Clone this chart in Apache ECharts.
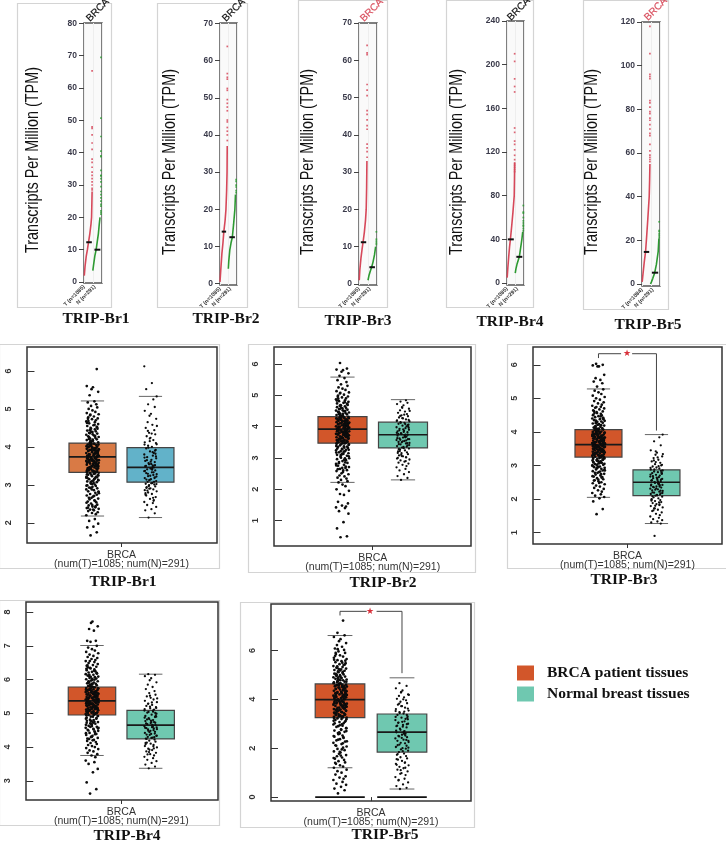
<!DOCTYPE html>
<html><head><meta charset="utf-8">
<style>html,body{margin:0;padding:0;background:#fff}#c{width:726px;height:843px}</style>
<script src="https://cdn.jsdelivr.net/npm/echarts@6/dist/echarts.min.js"></script>
</head><body><div id="c"></div>
<script>
const names = ['TRIP-Br1','TRIP-Br2','TRIP-Br3','TRIP-Br4','TRIP-Br5'];
const legendNames = ['BRCA patient tissues','Normal breast tissues'];
// ---- dot plots (TPM) ----
const dotTicks = [[0,10,20,30,40,50,60,70,80],[0,10,20,30,40,50,60,70],[0,10,20,30,40,50,60,70],[0,40,80,120,160,200,240],[0,20,40,60,80,100,120]];
const dotRange = [[-0.3,80.1],[-0.35,70.1],[-0.27,70],[-1.8,240],[-0.9,120]];
const dotCurveT = [
 [[0.03,2],[0.12,5],[0.25,8],[0.38,10],[0.5,12.3],[0.65,15],[0.78,18],[0.84,20],[0.88,25],[0.9,28]],
 [[0,0.5],[0.1,4],[0.22,8],[0.35,11],[0.45,14],[0.6,17],[0.7,20],[0.78,25],[0.83,30],[0.85,37]],
 [[0.03,1],[0.1,4],[0.22,7],[0.35,9.5],[0.45,11.2],[0.6,14],[0.72,17],[0.8,20],[0.85,26],[0.88,33]],
 [[0.02,5],[0.1,14],[0.2,24],[0.3,33],[0.4,40],[0.55,52],[0.7,65],[0.85,80],[0.88,95],[0.9,110]],
 [[0.02,1],[0.12,5],[0.25,10],[0.4,15],[0.52,22],[0.65,30],[0.8,40],[0.85,48],[0.88,55]]
];
const dotCurveN = [
 [[0.98,3.5],[1.05,5],[1.2,8],[1.35,10],[1.45,12],[1.6,15],[1.7,18],[1.78,20]],
 [[0.98,4],[1.03,6],[1.15,9],[1.3,11],[1.45,12.5],[1.6,16],[1.75,20],[1.82,24]],
 [[1,1],[1.1,2.2],[1.25,3.4],[1.4,4.5],[1.55,5.8],[1.72,7.8],[1.85,10]],
 [[0.97,9],[1.05,13],[1.2,18],[1.45,24],[1.6,32],[1.75,40],[1.85,47]],
 [[0.95,0],[1.05,1],[1.2,2.6],[1.4,5],[1.6,9],[1.8,15],[1.88,21]]
];
const dotExtraT = [
 [65.3,48,47.5,45.5,43,41,38,37,35.5,34,33,32,31,30,29,28.5],
 [63.8,56.5,55.5,55,52.5,52,49.5,48.5,47.5,46.5,44,43.5,42,41,40,38.5],
 [64,62,61.5,53.5,52,50.5,46.5,45.5,44,42.5,41.5,37.5,36.5,35.5,34],
 [210,203,187,180,175,142,138,130,127,122,117,113,110,108,106,104,102],
 [118,105.5,96,95,94,84,83,81,79,78,76,75,73,71,69,68,64,61,59,58,57,56]
];
const dotExtraN = [
 [69.5,50.7,45,40.5,39,38.8,34.5,33,32.8,32,31,29.5,28,27,26,25,24,23.5,22,21.5,21],
 [28,27.5,26.5,26,25,24.5],
 [14,12,11.5,11,10.6],
 [71,65,64,60,57,55,53,52,50,48],
 [28.5,24.5,24,23,22.3,21.5]
];
const dotExtraX = [[0.9,1.89],[0.86,1.9],[0.9,1.93],[0.9,1.92],[0.88,1.91]];
const dotMedianT = [12.3,14,11.2,40,14.7];
const dotMedianN = [10,12.5,4.5,24,5.2];
const dotMedianSpanT = [[0.25,0.87],[0.2,0.72],[0.2,0.8],[0.1,0.8],[0.2,0.8]];
const dotMedianSpanN = [[1.16,1.82],[1.1,1.75],[1.15,1.77],[1.1,1.8],[1.1,1.8]];
const dotSampleLabels = [['T (n=1085)','N (n=291)'],['T (n=1085)','N (n=291)'],['T (n=1085)','N (n=291)'],['T (n=1085)','N (n=291)'],['T (n=1084)','N (n=291)']];
// ---- box plots: [min, q1, median, q3, max] ----
const boxT = [[2.18,3.33,3.74,4.1,5.21],[2.22,3.47,3.92,4.32,5.58],[2.05,3.25,3.62,4.07,5.28],[3.75,4.95,5.37,5.78,7.01],[1.2,3.25,3.99,4.63,6.61]];
const boxN = [[2.14,3.07,3.46,3.98,5.33],[2.3,3.32,3.74,4.14,4.86],[1.27,2.1,2.5,2.87,3.92],[3.37,4.24,4.65,5.09,6.16],[0.33,1.84,2.66,3.4,4.88]];
const boxTicks = [[2,3,4,5,6],[1,2,3,4,5,6],[1,2,3,4,5,6],[3,4,5,6,7,8],[0,2,4,6]];
const boxRange = [[1.47,6.63],[0.19,6.54],[0.66,6.53],[2.43,8.3],[-0.16,7.9]];
const boxXRange = [[-0.129,3.147],[-0.132,3.124],[-0.129,3.13],[-0.124,3.147],[-0.113,3.113]];
const boxHalfWidth = [0.405,0.405,0.405,0.404,0.4];
const capHalfWidth = [0.2,0.2,0.2,0.2,0.2];
const jitterOffsets = [-0.04,0.09,-0.11,0.02,0.12,-0.07,0.05,-0.13,0.07,-0.01,0.11,-0.09,0.03,-0.05,0.13,-0.12,0.06,0.0,-0.08,0.1,-0.03,0.08,-0.1,0.04,-0.06,0.12,-0.02,0.01,-0.12,0.09,-0.05,0.06,0.13,-0.09,0.03,-0.13,0.1,-0.07,0.0,0.07,-0.11,0.05,-0.03];
const jitterOffsetsB = [0.035,-0.085,0.115,-0.025,-0.125,0.065,0.015,-0.055,0.095,-0.105,0.045,0.125,-0.015,-0.075,0.085,-0.035,0.105,-0.115,0.025,0.055,-0.095,0.075,-0.045,-0.005,0.135,-0.065,0.005];
const ptsT1 = [1.67,1.75,1.88,1.9,1.98,2.05,2.1,2.2,2.23,2.26,2.28,2.31,2.33,2.35,2.37,2.39,2.41,2.43,2.46,2.48,2.51,2.54,2.56,2.59,2.62,2.64,2.66,2.69,2.72,2.74,2.76,2.79,2.81,2.83,2.86,2.88,2.91,2.93,2.95,2.97,2.99,3.01,3.03,3.05,3.07,3.09,3.11,3.13,3.15,3.17,3.19,3.21,3.23,3.25,3.27,3.29,3.31,3.32,3.34,3.35,3.37,3.38,3.4,3.41,3.43,3.44,3.46,3.47,3.49,3.5,3.51,3.53,3.54,3.56,3.57,3.58,3.6,3.61,3.63,3.64,3.65,3.67,3.68,3.7,3.71,3.72,3.74,3.75,3.77,3.78,3.79,3.81,3.82,3.84,3.85,3.86,3.88,3.89,3.91,3.92,3.94,3.95,3.97,3.98,4,4.01,4.03,4.05,4.06,4.08,4.1,4.12,4.14,4.16,4.18,4.2,4.22,4.24,4.26,4.28,4.3,4.32,4.35,4.37,4.39,4.41,4.43,4.46,4.48,4.5,4.53,4.55,4.57,4.6,4.62,4.65,4.67,4.7,4.73,4.75,4.78,4.8,4.83,4.86,4.89,4.92,4.96,5,5.04,5.08,5.12,5.17,5.2,5.36,5.45,5.52,5.57,5.6,6.05];
const moreT1 = [3.62,3.41,3.88,3.27,4.02,2.44,3.55,4.44,3.73,3.18,3.95,2.82,3.48,4.21,3.66,3.08,3.83,4.63,3.36,2.58,3.99,3.59,4.13,3.02,3.76,3.45,4.33,2.71,3.9,3.52,4.07,3.22,3.69,2.35,3.8,4.52,3.39,3.96,3.12,3.64,4.26,3.5,2.92,3.86,3.58,4.09,3.3,4.74,3.72,3.43,2.47,3.93,3.61,4.17,3.15,3.78,3.47,4.4,2.98,3.84,3.56,4.04,3.34,3.7,4.58,3.25,3.92,2.66,3.54,4.11,3.81,3.38,3.05,4.29,3.67,3.49,4.85,3.97,2.78,3.6,4.19,3.32,3.75,3.44,4.01,2.53,3.87,3.63,4.36,3.2,3.74,3.57,4.06,2.88,3.42,3.98,3.68,4.48,3.28,3.82,3.51,2.4,3.91,4.15,3.1,3.65,4.24,3.37,3.79,4.68];
const ptsN1 = [2.14,2.25,2.33,2.36,2.42,2.47,2.52,2.55,2.6,2.63,2.68,2.72,2.76,2.8,2.83,2.86,2.88,2.91,2.94,2.96,2.99,3.01,3.03,3.05,3.08,3.1,3.13,3.15,3.18,3.2,3.23,3.26,3.28,3.31,3.33,3.36,3.38,3.41,3.43,3.46,3.49,3.51,3.54,3.57,3.6,3.63,3.66,3.7,3.73,3.77,3.8,3.84,3.88,3.92,3.96,4,4.03,4.07,4.12,4.18,4.24,4.28,4.33,4.37,4.44,4.5,4.58,4.65,4.74,4.82,4.87,4.95,5.05,5.12,5.25,5.33,5.52,5.68,6.12];
const moreN1 = [3.42,2.92,3.75,3.12,4.06,2.58,3.55,3.29,3.9,2.78,3.47,3.02,4.22,3.65,3.18,2.97,3.82,3.37,4.35,2.66,3.5,3.08,3.98,3.24,4.55,2.85,3.61,3.4,3.14,4.1,2.9,3.72,3.33,3.04,4.42,3.52,2.74,3.86,3.22,4.15];
const ptsT2 = [0.47,0.5,0.75,0.95,1.22,1.3,1.4,1.42,1.45,1.48,1.55,1.6,1.82,1.85,1.95,2,2.1,2.15,2.22,2.26,2.3,2.34,2.37,2.41,2.44,2.48,2.51,2.55,2.58,2.61,2.65,2.68,2.71,2.75,2.78,2.81,2.84,2.87,2.9,2.93,2.96,2.99,3.01,3.04,3.07,3.1,3.13,3.15,3.18,3.21,3.24,3.26,3.29,3.32,3.35,3.37,3.4,3.43,3.45,3.47,3.48,3.5,3.52,3.53,3.55,3.56,3.58,3.6,3.61,3.63,3.64,3.66,3.68,3.69,3.71,3.72,3.74,3.76,3.77,3.79,3.8,3.82,3.83,3.85,3.87,3.88,3.9,3.91,3.93,3.95,3.96,3.98,3.99,4.01,4.02,4.04,4.06,4.07,4.09,4.1,4.12,4.14,4.15,4.17,4.18,4.2,4.22,4.23,4.25,4.27,4.29,4.31,4.33,4.35,4.37,4.39,4.41,4.43,4.45,4.47,4.49,4.51,4.54,4.56,4.58,4.6,4.62,4.65,4.67,4.69,4.72,4.74,4.76,4.79,4.81,4.84,4.87,4.9,4.93,4.96,4.99,5.02,5.06,5.09,5.13,5.17,5.21,5.25,5.3,5.35,5.42,5.48,5.55,5.62,5.7,5.75,5.8,5.82,5.85,6.03];
const moreT2 = [3.81,3.58,4.11,3.44,4.26,2.72,3.74,4.66,3.94,3.3,4.19,3.05,3.67,4.4,3.86,3.22,4.03,4.83,3.54,2.86,4.21,3.78,4.34,3.14,3.97,3.62,4.52,2.94,4.08,3.71,4.28,3.38,3.89,2.6,4,4.73,3.56,4.16,3.26,3.83,4.46,3.69,3.09,4.05,3.76,4.3,3.49,4.95,3.92,3.6,2.68,4.13,3.8,4.38,3.33,3.98,3.65,4.6,3.17,4.06,3.75,4.24,3.51,3.9,4.78,3.42,4.12,2.83,3.73,4.33,4.01,3.57,3.2,4.5,3.87,3.66,5.08,4.17,2.99,3.79,4.41,3.46,3.95,3.63,4.22,2.76,4.09,3.84,4.56,3.36,3.93,3.77,4.27,3.11,3.59,4.18,3.88,4.69,3.47,4.04,3.7,2.64,4.14,4.36,3.28,3.85,4.44,3.55,3.99,4.89];
const ptsN2 = [2.3,2.36,2.42,2.48,2.55,2.6,2.65,2.7,2.74,2.78,2.82,2.85,2.88,2.92,2.95,2.98,3.02,3.05,3.08,3.12,3.15,3.18,3.21,3.24,3.27,3.3,3.33,3.35,3.38,3.4,3.43,3.46,3.48,3.51,3.54,3.57,3.6,3.62,3.65,3.68,3.71,3.74,3.76,3.79,3.82,3.85,3.87,3.9,3.93,3.95,3.98,4.01,4.03,4.06,4.09,4.12,4.14,4.17,4.2,4.23,4.26,4.29,4.33,4.36,4.4,4.44,4.48,4.52,4.57,4.62,4.68,4.72,4.76,4.8,4.84];
const moreN2 = [3.72,3.28,3.96,3.5,4.18,3.02,3.83,3.58,4.05,3.16,3.66,3.41,4.27,3.88,3.47,3.1,4,3.63,4.38,2.9,3.77,3.36,4.12,3.53,4.5,3.22,3.91,3.69,3.44,4.21,3.06,3.8,3.56,3.31,4.34,3.74,3.0,4.08,3.6,4.6];
const ptsT3 = [1.55,1.7,1.93,2.02,2.06,2.1,2.14,2.18,2.22,2.26,2.3,2.33,2.37,2.4,2.44,2.47,2.5,2.53,2.56,2.59,2.62,2.65,2.67,2.7,2.73,2.75,2.78,2.8,2.83,2.85,2.88,2.9,2.93,2.95,2.97,3,3.02,3.04,3.06,3.08,3.1,3.12,3.14,3.16,3.18,3.2,3.22,3.24,3.26,3.27,3.29,3.3,3.32,3.33,3.35,3.36,3.38,3.39,3.41,3.42,3.44,3.45,3.46,3.48,3.49,3.5,3.52,3.53,3.54,3.56,3.57,3.58,3.6,3.61,3.62,3.63,3.65,3.66,3.67,3.69,3.7,3.71,3.73,3.74,3.75,3.77,3.78,3.79,3.81,3.82,3.83,3.85,3.86,3.88,3.89,3.91,3.92,3.94,3.95,3.97,3.98,4,4.01,4.03,4.05,4.07,4.09,4.11,4.13,4.15,4.17,4.19,4.21,4.23,4.25,4.27,4.29,4.31,4.33,4.35,4.38,4.4,4.42,4.44,4.47,4.49,4.51,4.54,4.56,4.59,4.61,4.64,4.67,4.7,4.72,4.75,4.78,4.81,4.85,4.88,4.92,4.96,5,5.04,5.08,5.13,5.18,5.23,5.27,5.35,5.45,5.5,5.55,5.6,5.7,5.95,5.95,5.98,6,6.03];
const moreT3 = [3.51,3.31,3.76,3.19,3.93,2.64,3.47,4.34,3.64,3.09,3.84,2.87,3.4,4.12,3.58,3.02,3.72,4.5,3.28,2.74,3.88,3.49,4.02,2.95,3.66,3.37,4.22,2.82,3.8,3.43,3.96,3.15,3.6,2.48,3.7,4.41,3.34,3.86,3.05,3.55,4.16,3.42,2.92,3.77,3.5,3.99,3.24,4.62,3.63,3.36,2.58,3.83,3.53,4.07,3.11,3.68,3.39,4.3,2.99,3.74,3.46,3.94,3.27,3.61,4.46,3.21,3.82,2.78,3.45,4.04,3.71,3.33,3.07,4.2,3.57,3.41,4.74,3.87,2.85,3.52,4.1,3.26,3.65,3.38,3.91,2.68,3.78,3.54,4.26,3.17,3.67,3.48,3.97,2.97,3.35,3.89,3.59,4.38,3.23,3.73,3.44,2.55,3.81,4.06,3.13,3.56,4.14,3.3,3.69,4.56];
const ptsN3 = [0.9,1.27,1.3,1.33,1.37,1.4,1.44,1.48,1.52,1.56,1.6,1.64,1.68,1.72,1.75,1.79,1.82,1.85,1.88,1.91,1.94,1.97,2,2.02,2.05,2.07,2.1,2.12,2.15,2.17,2.19,2.22,2.24,2.26,2.29,2.31,2.34,2.36,2.38,2.41,2.43,2.46,2.48,2.5,2.53,2.55,2.57,2.6,2.62,2.65,2.67,2.7,2.72,2.75,2.77,2.8,2.82,2.85,2.88,2.91,2.94,2.97,3,3.04,3.08,3.12,3.17,3.22,3.27,3.32,3.38,3.45,3.6,3.72,3.84,3.92];
const moreN3 = [2.52,2.08,2.76,2.28,2.93,1.84,2.61,2.35,2.84,1.98,2.44,2.18,3.1,2.68,2.25,1.72,2.79,2.4,3.24,1.9,2.56,2.14,2.88,2.32,3.34,1.66,2.64,2.47,2.2,3.02,1.8,2.73,2.37,2.11,3.15,2.58,1.95,2.98,2.42,3.42];
const ptsT4 = [2.62,2.75,2.95,3.25,3.35,3.5,3.55,3.6,3.7,3.75,3.79,3.83,3.87,3.9,3.94,3.97,4,4.03,4.06,4.09,4.12,4.15,4.18,4.21,4.24,4.27,4.3,4.33,4.36,4.39,4.42,4.45,4.48,4.51,4.54,4.57,4.6,4.63,4.66,4.69,4.72,4.75,4.78,4.81,4.84,4.87,4.9,4.92,4.95,4.97,4.98,5,5.02,5.03,5.05,5.06,5.08,5.09,5.11,5.12,5.14,5.15,5.17,5.18,5.2,5.21,5.23,5.24,5.26,5.27,5.29,5.3,5.32,5.33,5.35,5.36,5.38,5.39,5.41,5.42,5.44,5.45,5.47,5.48,5.5,5.51,5.53,5.54,5.56,5.57,5.59,5.6,5.62,5.63,5.65,5.66,5.68,5.69,5.71,5.72,5.74,5.75,5.77,5.79,5.81,5.83,5.85,5.87,5.89,5.91,5.93,5.95,5.97,5.99,6.01,6.03,6.05,6.07,6.09,6.12,6.14,6.16,6.18,6.21,6.23,6.25,6.28,6.3,6.33,6.35,6.38,6.41,6.43,6.46,6.49,6.52,6.55,6.58,6.61,6.64,6.67,6.7,6.74,6.78,6.82,6.86,6.9,6.95,7,7.12,7.15,7.15,7.45,7.5,7.58,7.68,7.72];
const moreT4 = [5.25,5.01,5.52,4.9,5.7,4.38,5.18,6.1,5.4,4.78,5.6,4.55,5.12,5.95,5.3,4.7,5.46,6.32,5.04,4.46,5.66,5.22,5.8,4.62,5.42,5.1,6.02,4.52,5.55,5.16,5.74,4.84,5.34,4.2,5.48,6.2,5.07,5.62,4.74,5.28,5.9,5.14,4.6,5.5,5.24,5.78,4.98,6.42,5.37,5.08,4.3,5.58,5.27,5.86,4.8,5.44,5.13,6.08,4.66,5.53,5.2,5.7,5,5.35,6.26,4.92,5.61,4.49,5.19,5.82,5.45,5.05,4.72,6,5.31,5.15,6.55,5.64,4.57,5.26,5.88,4.96,5.39,5.11,5.68,4.41,5.54,5.29,6.14,4.86,5.43,5.21,5.73,4.68,5.09,5.63,5.33,6.18,4.94,5.47,5.17,4.25,5.57,5.84,4.76,5.32,5.92,5.03,5.41,6.36];
const ptsN4 = [3.37,3.42,3.48,3.53,3.58,3.62,3.67,3.71,3.75,3.79,3.83,3.87,3.91,3.95,3.99,4.03,4.06,4.1,4.13,4.16,4.19,4.22,4.25,4.28,4.3,4.33,4.36,4.39,4.42,4.45,4.48,4.5,4.53,4.56,4.59,4.62,4.65,4.68,4.71,4.74,4.77,4.8,4.83,4.86,4.89,4.92,4.96,4.99,5.02,5.05,5.08,5.11,5.15,5.18,5.22,5.25,5.29,5.33,5.37,5.41,5.46,5.5,5.55,5.6,5.66,5.72,5.78,5.85,5.92,5.98,6.04,6.1,6.14,6.16];
const moreN4 = [4.66,4.24,4.9,4.44,5.12,3.96,4.74,4.52,5.01,4.12,4.6,4.34,5.2,4.82,4.4,3.85,4.94,4.57,5.32,4.02,4.7,4.29,5.04,4.48,5.44,3.78,4.78,4.63,4.37,5.16,3.92,4.87,4.55,4.27,5.28,4.72,4.08,5.08,4.58,5.52];
const ptsT5 = [0.15,0.28,0.35,0.42,0.5,0.55,0.62,0.7,0.75,0.8,0.85,0.92,1,1.06,1.12,1.2,1.25,1.3,1.36,1.42,1.47,1.52,1.57,1.62,1.67,1.72,1.77,1.82,1.87,1.92,1.97,2.02,2.07,2.12,2.17,2.22,2.27,2.32,2.37,2.42,2.47,2.52,2.57,2.62,2.67,2.72,2.77,2.82,2.87,2.92,2.97,3.02,3.07,3.11,3.15,3.19,3.22,3.25,3.28,3.3,3.33,3.35,3.38,3.4,3.43,3.45,3.48,3.5,3.53,3.55,3.58,3.6,3.63,3.65,3.68,3.7,3.73,3.75,3.78,3.8,3.83,3.85,3.88,3.9,3.93,3.95,3.98,4,4.03,4.05,4.08,4.1,4.13,4.15,4.18,4.2,4.23,4.25,4.28,4.3,4.33,4.35,4.38,4.4,4.43,4.45,4.48,4.5,4.53,4.55,4.58,4.6,4.63,4.66,4.69,4.72,4.75,4.78,4.81,4.84,4.87,4.9,4.93,4.96,4.99,5.02,5.05,5.08,5.11,5.14,5.17,5.2,5.23,5.26,5.29,5.32,5.36,5.4,5.44,5.48,5.52,5.56,5.6,5.65,5.7,5.75,5.8,5.85,5.9,5.96,6.02,6.08,6.15,6.22,6.3,6.38,6.46,6.55,6.62,6.72,7.22];
const moreT5 = [3.94,3.56,4.36,3.31,4.66,2.45,3.77,5.3,4.12,3.02,4.5,2.7,3.66,5.04,4.02,2.9,4.28,5.62,3.48,2.2,4.56,3.86,4.74,2.6,4.18,3.59,5.18,1.95,4.42,3.72,4.82,3.12,4.06,1.7,4.26,5.42,3.42,4.6,2.82,3.92,4.98,3.64,2.35,4.34,3.84,4.88,3.26,5.78,4.14,3.52,1.85,4.52,3.98,4.94,2.98,4.22,3.69,5.24,2.5,4.4,3.8,4.7,3.37,4.08,5.5,3.18,4.48,2.1,3.76,4.9,4.2,3.46,2.75,5.12,3.96,3.62,6.05,4.64,2.28,3.88,4.78,3.29,4.16,3.54,4.58,1.6,4.38,3.9,5.35,3.08,4.1,3.74,4.72,2.65,3.44,4.54,4.0,5.58,3.22,4.32,3.67,1.4,4.46,4.84,2.94,3.82,5.0,3.34,4.24,5.9];
const ptsN5 = [0.33,0.38,0.45,0.52,0.6,0.68,0.75,0.82,0.9,0.98,1.05,1.12,1.18,1.24,1.3,1.36,1.42,1.48,1.53,1.58,1.63,1.68,1.73,1.78,1.84,1.9,1.95,2,2.05,2.1,2.15,2.2,2.25,2.3,2.35,2.4,2.45,2.5,2.55,2.6,2.65,2.7,2.75,2.8,2.85,2.9,2.95,3,3.05,3.1,3.15,3.2,3.25,3.3,3.36,3.42,3.48,3.54,3.6,3.66,3.72,3.78,3.84,3.9,3.96,4.02,4.08,4.14,4.2,4.28,4.36,4.45,4.55,4.66];
const moreN5 = [2.68,1.76,3.18,2.22,3.52,1.2,2.88,2.48,3.36,1.55,2.58,2.02,3.72,3.04,2.34,0.95,3.24,2.72,4,1.4,2.92,1.98,3.44,2.42,4.18,0.7,3.08,2.62,2.12,3.62,1.1,3.28,2.52,1.88,3.82,2.98,1.32,3.5,2.3,4.3];
const pointsT = [ptsT1,ptsT2,ptsT3,ptsT4,ptsT5];
const pointsN = [ptsN1,ptsN2,ptsN3,ptsN4,ptsN5];
const pointsT2 = [moreT1,moreT2,moreT3,moreT4,moreT5];
const pointsN2 = [moreN1,moreN2,moreN3,moreN4,moreN5];
// brackets: [top, left foot, right foot]
const brackets = [null,null,[6.33,6.2,4.04],null,[7.6,7.43,5.07]];
const bracketGap = [null,null,[1.39,1.58],null,[1.43,1.59]];
const zeroBars = [false,false,false,false,true];

// ---- layout (pixels) ----
const dotGrids = [[84,23,18,260],[220,23,17,262],[359,23,18,262],[507,21,17,264],[642,22,18,264]];
const dotFrames = [[17,3,94,304],[157,3,90,304],[298,0,89,307],[446,0,87,307],[583,0,85,309]];
const dotYLabel = [[33,160],[170,162],[308,162],[457,162],[592,162]];
const dotBrca = [[88,20,'#111'],[224,20,'#111'],[362,20,'#d9505f'],[509,19,'#111'],[646,19,'#d9505f']];
const dotTitle = [[96,319],[226,319],[358,321],[510,322],[648,325]];
const boxGrids = [[27,347,190,196],[274,347,197,199],[533,347,189,197],[26,602,192,198],[271,604,200,197]];
const boxFrames = [[-1,344,220,224],[248,344,227,228],[507,344,222,224],[-1,600,220,225],[240,602,234,225]];
const boxTitle = [[123,582],[383,583],[624,580],[127,836],[385,835]];
const stars = [null,null,[627,354],null,[370,612]];
const colT = ['#d97a45','#d2562a','#d2562a','#d2562a','#d2562a'];
const colN = ['#62b2c9','#6fc8b0','#6fc8b0','#6fc8b0','#6fc8b0'];

const grid=[],xAxis=[],yAxis=[],series=[],graphic=[];
const SANS='"Liberation Sans",Arial,sans-serif', SERIF='"Liberation Serif",serif';
function title(t,x,y){graphic.push({type:'text',x,y,z:5,style:{text:t,font:'bold 15.5px '+SERIF,fill:'#111',textAlign:'center',textVerticalAlign:'middle'}});}
function frame(f){graphic.push({type:'rect',z:-1,silent:true,shape:{x:f[0]+.5,y:f[1]+.5,width:f[2],height:f[3]},style:{fill:'none',stroke:'#d4d4d4',lineWidth:1.2}});}

names.forEach((nm,i)=>{
  const g=dotGrids[i], idx=grid.length;
  grid.push({left:g[0],top:g[1],width:g[2],height:g[3],show:true,backgroundColor:'#fafafa',borderColor:'#555',borderWidth:1.5});
  xAxis.push({gridIndex:idx,type:'value',min:0,max:2,interval:1,
    axisLine:{show:false},axisTick:{show:false},splitLine:{show:true,lineStyle:{color:'#eeeeee',width:1}},
    axisLabel:{show:true,customValues:[0.01,1.2],showMinLabel:true,showMaxLabel:true,hideOverlap:false,rotate:45,margin:3,fontSize:5.5,fontWeight:'bold',color:'#333',fontFamily:SANS,
      formatter:v=>v<1?dotSampleLabels[i][0]:dotSampleLabels[i][1]}});
  yAxis.push({gridIndex:idx,type:'value',min:dotRange[i][0],max:dotRange[i][1],splitLine:{show:false},
    axisLine:{show:false},axisTick:{show:true,customValues:dotTicks[i],length:5,lineStyle:{color:'#444',width:1}},
    axisLabel:{customValues:dotTicks[i],fontSize:8.5,fontWeight:'bold',color:'#3a3a4a',margin:7,fontFamily:SANS}});
  const add=(type,data,color,extra)=>series.push(Object.assign({type,xAxisIndex:idx,yAxisIndex:idx,data,silent:true,animation:false},extra,
    type==='line'?{showSymbol:false,lineStyle:{color,width:extra&&extra.w||1.6},itemStyle:{color}}:{symbol:'rect',symbolSize:1.7,itemStyle:{color,opacity:.85}}));
  add('line',dotCurveT[i],'#d6485a');
  add('line',dotCurveN[i],'#2d9a32');
  add('scatter',dotExtraT[i].map(v=>[dotExtraX[i][0],v]),'#d6485a');
  add('scatter',dotExtraN[i].map(v=>[dotExtraX[i][1],v]),'#2d9a32');
  add('line',dotMedianSpanT[i].map(x=>[x,dotMedianT[i]]),'#111',{w:2,z:4});
  add('line',dotMedianSpanN[i].map(x=>[x,dotMedianN[i]]),'#111',{w:2,z:4});
  frame(dotFrames[i]);
  const yl=dotYLabel[i];
  graphic.push({type:'text',x:yl[0],y:yl[1],rotation:Math.PI/2,scaleX:.8,z:5,style:{text:'Transcripts Per Million (TPM)',font:'18px '+SANS,fill:'#111',textAlign:'center',textVerticalAlign:'middle'}});
  const b=dotBrca[i];
  graphic.push({type:'text',x:b[0],y:b[1],rotation:Math.PI/4,z:5,style:{text:'BRCA',font:'10px '+SANS,fill:b[2],stroke:b[2],lineWidth:.2,textAlign:'left',textVerticalAlign:'middle'}});
  title(nm,dotTitle[i][0],dotTitle[i][1]);
});

function boxRender(halfW,capW,color,zero){
  return (params,api)=>{
    const x=api.value(0),vals=[1,2,3,4,5].map(k=>api.value(k));
    const P=(a,b)=>api.coord([a,b]);
    const line=(a,b,st)=>({type:'line',shape:{x1:a[0],y1:a[1],x2:b[0],y2:b[1]},style:st});
    const thin={stroke:'#666',lineWidth:1}, med={stroke:'#1a1a1a',lineWidth:1.7};
    const tl=P(x-halfW,vals[3]),br=P(x+halfW,vals[1]);
    const ch=[
      line(P(x-capW,vals[0]),P(x+capW,vals[0]),thin),
      line(P(x-capW,vals[4]),P(x+capW,vals[4]),thin),
      {type:'rect',shape:{x:tl[0],y:tl[1],width:br[0]-tl[0],height:br[1]-tl[1]},style:{fill:color,stroke:'#444',lineWidth:1.2}},
      line(P(x-halfW,vals[2]),P(x+halfW,vals[2]),med)
    ];
    if(zero) ch.push(line(P(x-halfW,0),P(x+halfW,0),{stroke:'#111',lineWidth:1.8}));
    return {type:'group',children:ch};
  };
}
names.forEach((nm,i)=>{
  const g=boxGrids[i], idx=grid.length;
  grid.push({left:g[0],top:g[1],width:g[2],height:g[3],show:true,backgroundColor:'#fff',borderColor:'#333',borderWidth:1.5});
  xAxis.push({gridIndex:idx,type:'value',min:boxXRange[i][0],max:boxXRange[i][1],splitLine:{show:false},
    axisLine:{show:false},axisTick:{show:true,customValues:[1.5],length:4,lineStyle:{color:'#333'}},
    axisLabel:{customValues:[1.5],margin:8,fontSize:10.5,lineHeight:9,color:'#333',fontFamily:SANS,formatter:()=>'BRCA\n(num(T)=1085; num(N)=291)'}});
  yAxis.push({gridIndex:idx,type:'value',min:boxRange[i][0],max:boxRange[i][1],splitLine:{show:false},
    axisLine:{show:false},axisTick:{show:true,customValues:boxTicks[i],length:7,lineStyle:{color:'#333'}},
    axisLabel:{customValues:boxTicks[i],rotate:90,margin:14,fontSize:9,fontWeight:'bold',color:'#333',fontFamily:SANS}});
  [[1,boxT[i],colT[i],0,pointsT[i],pointsT2[i]],[2,boxN[i],colN[i],1,pointsN[i],pointsN2[i]]].forEach(([pos,b,c,k,pts,pts2])=>{
    series.push({type:'custom',name:legendNames[k],xAxisIndex:idx,yAxisIndex:idx,z:2,silent:true,animation:false,
      itemStyle:{color:c},encode:{x:0,y:[1,2,3,4,5]},clip:false,
      renderItem:boxRender(boxHalfWidth[i],capHalfWidth[i],c,zeroBars[i]),data:[[pos].concat(b)]});
    const spread=0.82;
    const scat=d=>({type:'scatter',xAxisIndex:idx,yAxisIndex:idx,z:3,silent:true,animation:false,symbolSize:k?2.3:2.7,itemStyle:{color:'#0c0c0c',opacity:1},data:d});
    series.push(scat(pts.map((v,j)=>[pos+jitterOffsets[j%jitterOffsets.length]*spread,v])));
    series.push(scat(pts2.map((v,j)=>[pos+jitterOffsetsB[j%jitterOffsetsB.length]*spread,v])));
  });
  if(brackets[i]){
    const b=brackets[i],gap=bracketGap[i];
    series.push({type:'line',xAxisIndex:idx,yAxisIndex:idx,z:4,silent:true,animation:false,showSymbol:false,connectNulls:false,
      lineStyle:{color:'#444',width:1},itemStyle:{color:'#444'},
      data:[[1,b[1]],[1,b[0]],[gap[0],b[0]],[null,null],[gap[1],b[0]],[2,b[0]],[2,b[2]]]});
    graphic.push({type:'text',x:stars[i][0],y:stars[i][1],z:6,style:{text:'★',font:'9px "DejaVu Sans"',fill:'#d8303a',textAlign:'center',textVerticalAlign:'middle'}});
  }
  frame(boxFrames[i]);
  title(nm,boxTitle[i][0],boxTitle[i][1]);
});

const chart=echarts.init(document.getElementById('c'),null,{renderer:'canvas'});
chart.setOption({animation:false,backgroundColor:'#fff',grid,xAxis,yAxis,series,graphic:{elements:graphic},
  legend:{show:true,orient:'vertical',left:517,top:665,itemWidth:17,itemHeight:15,itemGap:5,padding:0,selectedMode:false,icon:'rect',
    data:[{name:legendNames[0],itemStyle:{color:'#d2562a'}},{name:legendNames[1],itemStyle:{color:'#6fc8b0'}}],
    textStyle:{fontFamily:SERIF,fontWeight:'bold',fontSize:15.5,color:'#111',padding:[0,0,3,8]}}});
</script></body></html>
